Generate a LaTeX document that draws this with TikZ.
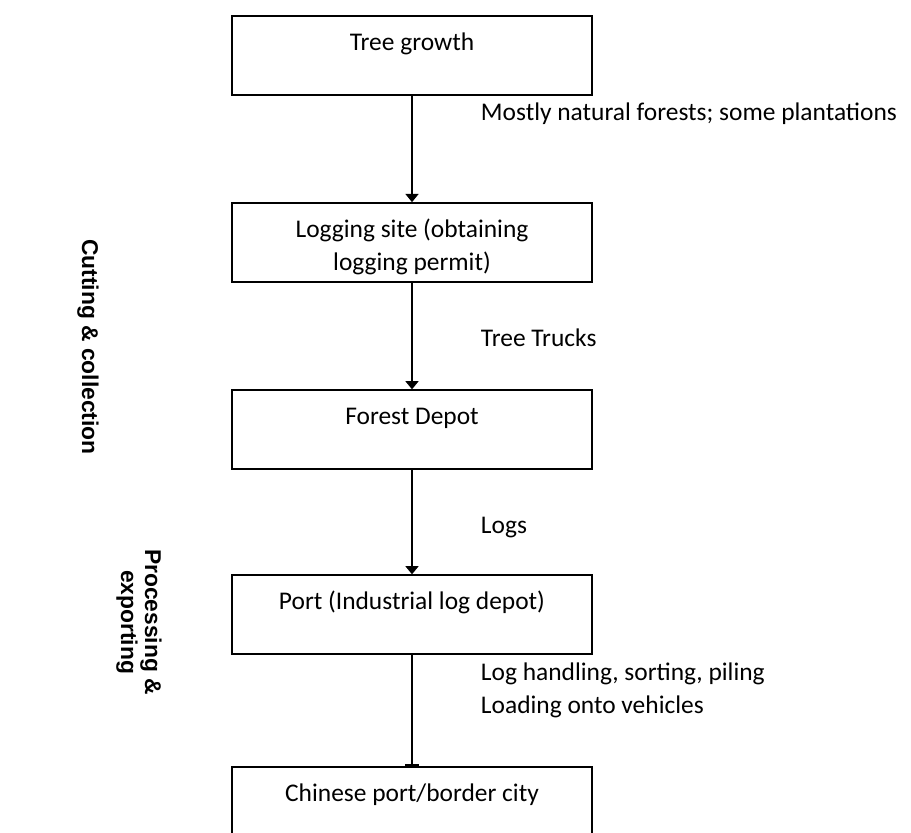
\documentclass[tikz,border=0pt]{standalone}
\usepackage{fontspec}
\setmainfont{Carlito}
\newfontfamily\sidefont{Liberation Sans}
\usetikzlibrary{arrows.meta,positioning}

\begin{document}
\begin{tikzpicture}[x=0.46pt, y=-0.46pt, line width=0.8pt,
  >={Triangle[length=3.8pt,width=6pt]},
  font=\fontsize{11.7}{15}\selectfont,
  stage/.style={draw, text width=157.6pt, inner xsep=4pt, inner ysep=0pt,
    align=flush center, text height=16pt, text depth=20.3pt},
  note/.style={anchor=west, xshift=28pt, align=left},
  phase/.style={rotate=-90, align=center,
    font=\sidefont\bfseries\fontsize{10.5}{11}\selectfont}]
  \useasboundingbox (0,0) rectangle (911,833);
  \clip (0,0) rectangle (911,833);

  % chain of stages
  \node[stage, anchor=north] (growth) at (412,15) {Tree growth};
  \node[stage, below=49pt of growth] (site) {Logging site (obtaining\\logging permit)};
  \node[stage, below=49pt of site] (depot) {Forest Depot};
  \node[stage, below=48pt of depot] (port) {Port (Industrial log depot)};
  \node[stage, below=51pt of port] (border) {Chinese port/border city};

  % flows and notes
  \draw[->] (growth) -- (site) node[note, pos=0.17] {Mostly natural forests; some plantations};
  \draw[->] (site) -- (depot) node[note, pos=0.52] {Tree Trucks};
  \draw[->] (depot) -- (port) node[note, pos=0.55] {Logs};
  \draw[-{Rectangle[length=0.9pt,width=6.5pt]}] (port) -- (border)
    node[note, pos=0.32] {Log handling, sorting, piling\\Loading onto vehicles};

  % phases
  \node[phase] (cutting) at (88,347) {Cutting \& collection};
  \node[phase] (processing) at (139,622) {Processing \&\\exporting};
\end{tikzpicture}
\end{document}
